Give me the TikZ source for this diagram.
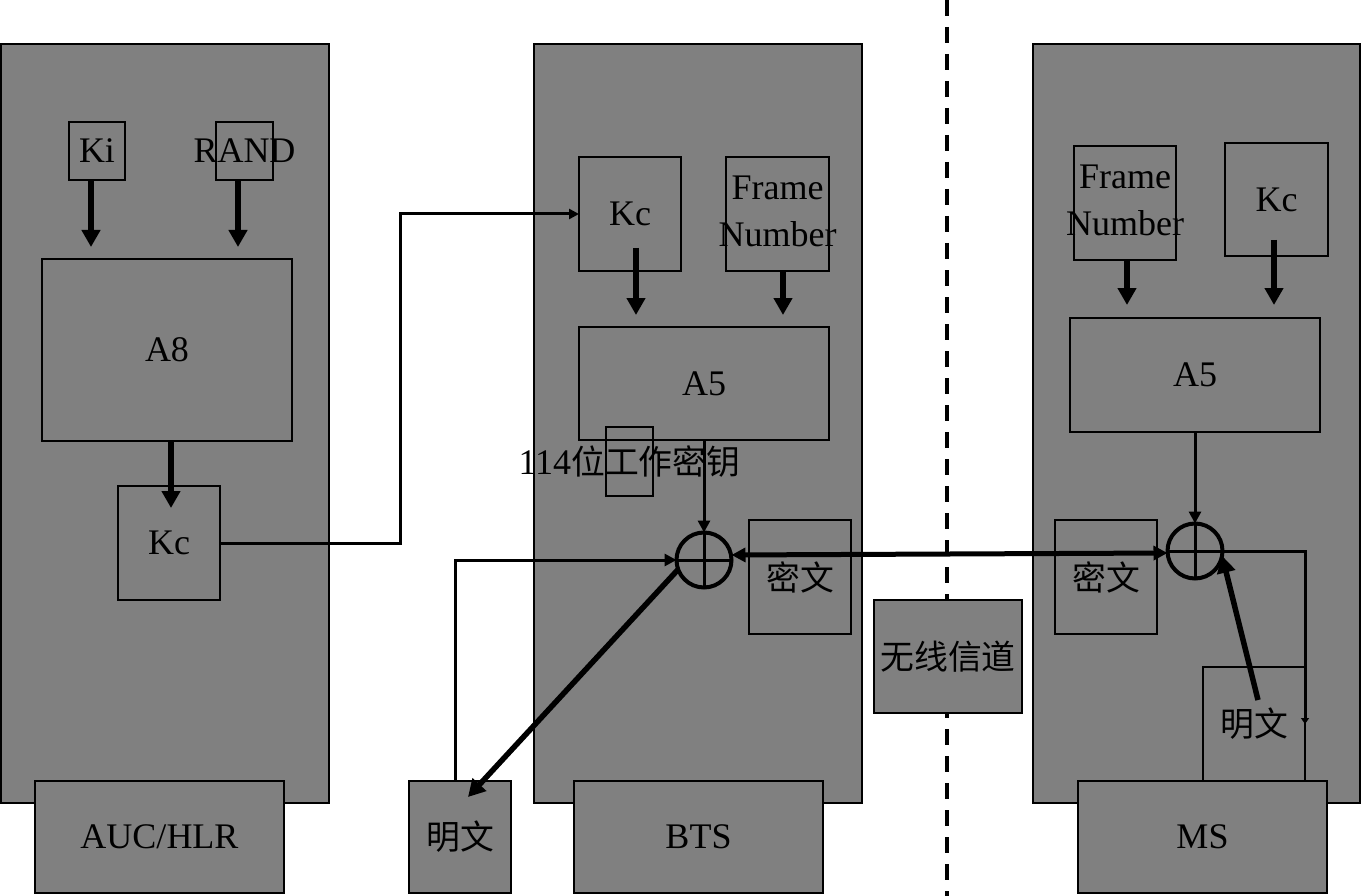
\documentclass[tikz,border=0pt]{standalone}
\usepackage{fontspec}
\setmainfont{Liberation Serif}
\newfontfamily\cjk[Scale=0.94]{Noto Sans CJK SC}
\usetikzlibrary{arrows.meta,calc}
\definecolor{bg}{RGB}{128,128,128}
\newcommand\mkbox[7][]{\node[box,#1,minimum width={(#5-#3)*1pt},minimum height={(#6-#4)*1pt}] (#2) at ({(#3+#5)/2},{(#4+#6)/2}) {\makebox[0pt]{#7}};}
\tikzset{
  box/.style={draw=black,line width=2pt,fill=bg,inner sep=0pt,outer sep=0pt,font=\fontsize{36}{47}\selectfont},
  xorc/.style={circle,draw=black,line width=4pt,minimum size=55pt,inner sep=0pt,outer sep=0pt},
  thk/.style={line width=5.5pt,-{Triangle[width=18pt,length=17pt]}},
  thn/.style={line width=3pt,-{Triangle[width=12pt,length=12pt]}},
  lnk/.style={line width=3pt,-{Triangle[width=10pt,length=10pt]}},
  dbl/.style={line width=5pt,{Triangle[width=14pt,length=14pt]}-{Triangle[width=14pt,length=14pt]}},
  chdash/.style={line width=4pt,dash pattern=on 16pt off 11pt},
}
\begin{document}
\begin{tikzpicture}[x=1pt,y=-1pt]
\useasboundingbox (0,0) rectangle (1363,896);
\fill[white] (0,0) rectangle (1363,896);
% dashed channel boundary
\coordinate (dtop) at (947,0);
\coordinate (dbot) at (947,896);
\draw[chdash] (dtop) -- (dbot);
% big boxes
\mkbox{auc}{1}{44}{329}{803}{}
\mkbox{bts}{534}{44}{862}{803}{}
\mkbox{ms}{1033}{44}{1360}{803}{}
% AUC/HLR content
\mkbox{ki}{69}{122}{125}{180}{Ki}
\mkbox{rand}{216}{122}{273}{180}{RAND}
\mkbox{a8}{42}{259}{292}{441}{A8}
\mkbox{kc1}{118}{486}{220}{600}{Kc}
% BTS content
\mkbox{bkc}{579}{157}{681}{271}{Kc}
\mkbox{bfn}{726}{157}{829}{271}{\begin{tabular}{@{}c@{}}Frame\\Number\end{tabular}}
\mkbox{ba5}{579}{327}{829}{440}{A5}
\mkbox[fill=none]{bkey}{606}{427}{653}{496}{114{\cjk 位工作密钥}}
\mkbox{bct}{749}{520}{851}{634}{\cjk 密文}
\node[xorc] (x1) at (704,560) {};
\draw[line width=3pt] (x1.north) -- (x1.south) (x1.west) -- (x1.east);
% MS content
\mkbox{mfn}{1074}{146}{1176}{260}{\begin{tabular}{@{}c@{}}Frame\\Number\end{tabular}}
\mkbox{mkc}{1225}{143}{1328}{256}{Kc}
\mkbox{ma5}{1070}{318}{1320}{432}{A5}
\mkbox{mct}{1055}{520}{1157}{634}{\cjk 密文}
\node[xorc] (x2) at (1195,551) {};
\draw[line width=3pt] (x2.north) -- (x2.south) (x2.west) -- (x2.east);
\mkbox{mpt}{1203}{667}{1305}{781}{\cjk 明文}
% channel
\mkbox{chan}{874}{600}{1022}{713}{\cjk 无线信道}
% bottom labels
\mkbox{auclbl}{35}{781}{284}{893}{AUC/HLR}
\mkbox{bpt}{409}{781}{511}{893}{\cjk 明文}
\mkbox{btslbl}{574}{781}{823}{893}{BTS}
\mkbox{mslbl}{1078}{781}{1327}{893}{MS}
% AUC/HLR arrows
\draw[thk] ($(ki.south)+(-6,0)$) -- ($(ki.south |- a8.north)+(-6,-12)$);
\draw[thk] ($(rand.south)+(-6.5,0)$) -- ($(rand.south |- a8.north)+(-6.5,-12)$);
\draw[thk] ($(a8.south)+(4,0)$) -- ($(a8.south |- kc1.north)+(4,22)$);
\draw[lnk] (kc1.east) -- ++(180,0) |- (bkc.west);
% BTS arrows
\draw[thk] ($(bkc.center)+(6,34)$) -- ($(bkc.center |- ba5.north)+(6,-12)$);
\draw[thk] ($(bfn.south)+(5.5,0)$) -- ($(bfn.south |- ba5.north)+(5.5,-12)$);
\draw[thn] (ba5.south) -- (x1.north);
\draw[thn] ($(bpt.north)+(-5,0)$) |- (x1.west);
\draw[thk] (x1.200) -- ($(bpt.north)+(8,16)$);
% channel link
\draw[dbl] ($(x1.east)+(0,-5)$) -- ($(x2.west)+(0,2)$);
% MS arrows
\draw[thk] ($(mfn.south)+(2,0)$) -- ($(mfn.south |- ma5.north)+(2,-13)$);
\draw[thk] ($(mkc.center)+(-2.5,40.5)$) -- ($(mkc.center |- ma5.north)+(-2.5,-13)$);
\draw[thn] (ma5.south) -- (x2.north);
\draw[line width=3pt,-{Triangle[width=8pt,length=6pt]}] (x2.east) -| (mpt.east);
\draw[thk] ($(mpt.center)+(4,-24)$) -- (x2.350);
\end{tikzpicture}
\end{document}
